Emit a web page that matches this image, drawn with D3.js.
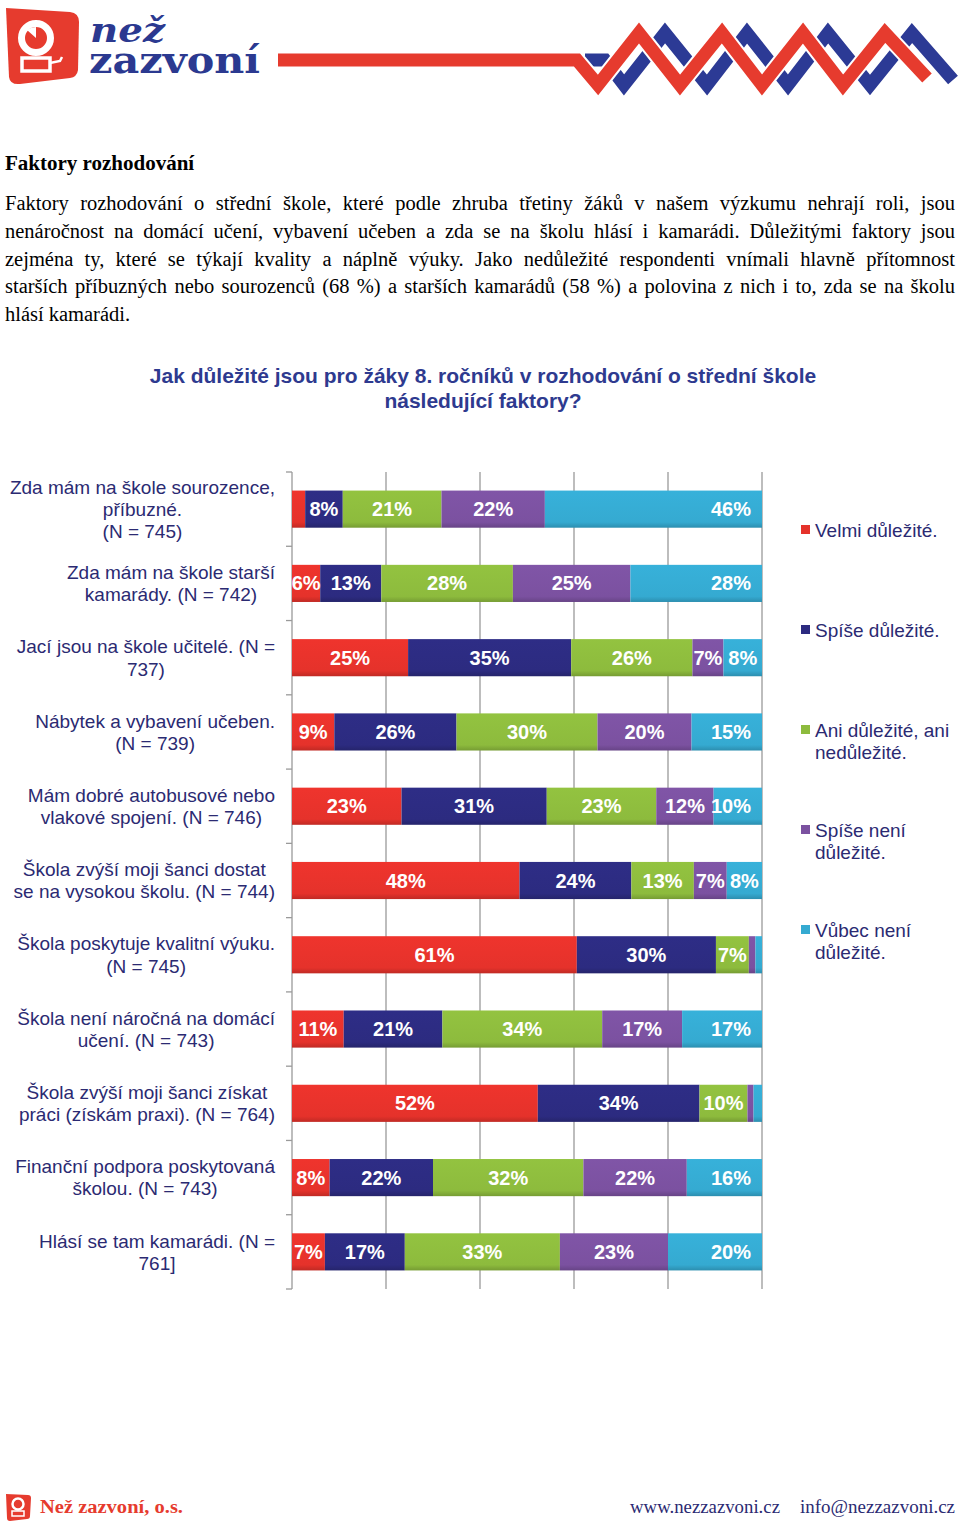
<!DOCTYPE html>
<html>
<head>
<meta charset="utf-8">
<script src="https://cdn.jsdelivr.net/npm/d3@7"></script>
<style>
  html, body { margin: 0; padding: 0; background: #fff; }
  svg { display: block; }
</style>
</head>
<body>
<svg id="page" width="960" height="1524"></svg>
<script>
// ---------------- DATA ----------------
const categories = [
  "Zda mám na škole sourozence, příbuzné. (N = 745)",
  "Zda mám na škole starší kamarády. (N = 742)",
  "Jací jsou na škole učitelé. (N = 737)",
  "Nábytek a vybavení učeben. (N = 739)",
  "Mám dobré autobusové nebo vlakové spojení. (N = 746)",
  "Škola zvýší moji šanci dostat se na vysokou školu. (N = 744)",
  "Škola poskytuje kvalitní výuku. (N = 745)",
  "Škola není náročná na domácí učení.  (N = 743)",
  "Škola zvýší moji šanci získat práci (získám praxi). (N = 764)",
  "Finanční podpora poskytovaná školou. (N = 743)",
  "Hlásí se tam kamarádi. (N = 761]"
];
const categoryLines = [
  ["Zda mám na škole sourozence,", "příbuzné.", "(N = 745)"],
  ["Zda mám na škole starší", "kamarády. (N = 742)"],
  ["Jací jsou na škole učitelé. (N =", "737)"],
  ["Nábytek a vybavení učeben.", "(N = 739)"],
  ["Mám dobré autobusové nebo", "vlakové spojení. (N = 746)"],
  ["Škola zvýší moji šanci dostat", "se na vysokou školu. (N = 744)"],
  ["Škola poskytuje kvalitní výuku.", "(N = 745)"],
  ["Škola není náročná na domácí", "učení.  (N = 743)"],
  ["Škola zvýší moji šanci získat", "práci (získám praxi). (N = 764)"],
  ["Finanční podpora poskytovaná", "školou. (N = 743)"],
  ["Hlásí se tam kamarádi. (N =", "761]"]
];
const seriesNames = ["Velmi důležité.", "Spíše důležité.", "Ani důležité, ani nedůležité.", "Spíše není důležité.", "Vůbec není důležité."];
const legendLines = [["Velmi důležité."], ["Spíše důležité."], ["Ani důležité, ani", "nedůležité."], ["Spíše není", "důležité."], ["Vůbec není", "důležité."]];
const velmi      = [2.8, 6.0, 24.7, 9.0, 23.3, 48.4, 60.6, 11.0, 52.3, 8.0, 7.0];
const spise      = [8.0, 13.0, 34.7, 26.0, 30.9, 23.8, 29.6, 21.0, 34.4, 22.0, 17.0];
const ani        = [21.0, 28.0, 25.8, 30.0, 23.3, 13.3, 7.0, 34.0, 10.2, 32.0, 33.0];
const spiseNeni  = [22.0, 25.0, 6.6, 20.0, 12.2, 7.0, 1.4, 17.0, 1.3, 22.0, 23.0];
const vubecNeni  = [46.2, 28.0, 8.2, 15.0, 10.3, 7.5, 1.4, 17.0, 1.8, 16.0, 20.0];
const xTicks = [0, 20, 40, 60, 80, 100];

const paragraphLines = [
  "Faktory rozhodování o střední škole, které podle zhruba třetiny žáků v našem výzkumu nehrají roli, jsou",
  "nenáročnost na domácí učení, vybavení učeben a zda se na školu hlásí i kamarádi. Důležitými faktory jsou",
  "zejména ty, které se týkají kvality a náplně výuky. Jako nedůležité respondenti vnímali hlavně přítomnost",
  "starších příbuzných nebo sourozenců (68 %) a starších kamarádů (58 %) a polovina z nich i to, zda se na školu",
  "hlásí kamarádi."
];
const titleLines = ["Jak důležité jsou pro žáky 8. ročníků v rozhodování o střední škole", "následující faktory?"];

// ---------------- SETUP ----------------
const colors = ["#E5322B", "#2C2B80", "#8DBB3D", "#7B51A0", "#35AAD1"];
const svg = d3.select("#page");
const serif = "'Liberation Serif', 'Times New Roman', serif";
const sans = "'Liberation Sans', Arial, sans-serif";
const navy = "#2B2A72";

// ---------------- HEADER (logo + zigzag) ----------------
const hdr = svg.append("g");
hdr.append("path")
  .attr("d", "M6,8 L70,12 Q79,13 79,22 L78,70 Q77,77 70,78 L20,84 Q10,85 9,77 Z")
  .attr("fill", "#E63B2E");
hdr.append("circle").attr("cx", 36).attr("cy", 38).attr("r", 14.5)
  .attr("fill", "#E63B2E").attr("stroke", "#fff").attr("stroke-width", 7);
hdr.append("path").attr("d", "M36,38 L27,30 Q31,27 36,27 Z").attr("fill", "#fff");
hdr.append("path").attr("d", "M22,58 L50,58 L50,71 L22,71 Z")
  .attr("fill", "none").attr("stroke", "#fff").attr("stroke-width", 3.5);
hdr.append("path").attr("d", "M50,63 L60,61 L62,57").attr("fill", "none")
  .attr("stroke", "#fff").attr("stroke-width", 2.5);
const logoText = hdr.append("text")
  .attr("font-family", "'DejaVu Serif', serif").attr("font-weight", "bold").attr("fill", "#2B3990");
logoText.append("tspan").attr("x", 90).attr("y", 42)
  .attr("font-style", "italic").attr("font-size", 34)
  .attr("textLength", 75).attr("lengthAdjust", "spacingAndGlyphs").text("než");
logoText.append("tspan").attr("x", 89).attr("y", 73)
  .attr("font-size", 38)
  .attr("textLength", 171).attr("lengthAdjust", "spacingAndGlyphs").text("zazvoní");
// zigzags
const blueZig = "M585,60 L605,60 L624,85 L665,33 L707,85 L747,33 L788,85 L828,33 L870,85 L912,33 L953,80";
const redZig = "M278,60 L577,60 L598,85 L639,33 L680,85 L722,33 L762,85 L803,33 L843,85 L885,33 L927,78";
hdr.append("path").attr("d", blueZig).attr("fill", "none").attr("stroke", "#2C3A95")
  .attr("stroke-width", 13).attr("stroke-linejoin", "miter");
hdr.append("path").attr("d", redZig.replace("M278,60 L577,60", "M565,60 L577,60")).attr("fill", "none").attr("stroke", "#fff")
  .attr("stroke-width", 17).attr("stroke-linejoin", "miter");
hdr.append("path").attr("d", redZig).attr("fill", "none").attr("stroke", "#E63B2E")
  .attr("stroke-width", 13).attr("stroke-linejoin", "miter");

// ---------------- HEADING + PARAGRAPH ----------------
svg.append("text").attr("x", 5).attr("y", 170)
  .attr("font-family", serif).attr("font-weight", "bold").attr("font-size", 21)
  .attr("fill", "#000").text("Faktory rozhodování");

const paraG = svg.append("g").attr("font-family", serif).attr("font-size", 20.5).attr("fill", "#000");
const paraLeft = 5, paraRight = 955;
paragraphLines.forEach((line, i) => {
  const y = 210 + i * 27.8;
  const words = line.split(" ");
  const isLast = i === paragraphLines.length - 1;
  const nodes = words.map(w => paraG.append("text").attr("y", y).text(w));
  const widths = nodes.map(n => n.node().getComputedTextLength());
  const total = d3.sum(widths);
  const gap = isLast ? 5 : (paraRight - paraLeft - total) / (words.length - 1);
  let x = paraLeft;
  nodes.forEach((n, k) => { n.attr("x", x); x += widths[k] + gap; });
});

// ---------------- CHART TITLE ----------------
svg.append("g").selectAll("text").data(titleLines).join("text")
  .attr("x", 483).attr("y", (d, i) => 383 + i * 25)
  .attr("text-anchor", "middle")
  .attr("font-family", sans).attr("font-weight", "bold").attr("font-size", 21)
  .attr("fill", "#2E3A8F")
  .text(d => d);

// ---------------- CHART ----------------
const x = d3.scaleLinear().domain([0, 100]).range([292, 762]);
const y = d3.scaleBand().domain(categories).range([472, 1289]).paddingInner(0.5).paddingOuter(0.25);

// gridlines
svg.append("g").selectAll("line").data(xTicks.slice(1)).join("line")
  .attr("x1", d => x(d)).attr("x2", d => x(d))
  .attr("y1", 472).attr("y2", 1289)
  .attr("stroke", "#9A9A9A").attr("stroke-width", 1.3);

// left axis with ticks at band boundaries
const axisG = svg.append("g");
axisG.append("line").attr("x1", 292).attr("x2", 292).attr("y1", 472).attr("y2", 1289)
  .attr("stroke", "#9A9A9A").attr("stroke-width", 1.3);
const boundaries = d3.range(categories.length + 1).map(i => 472 + i * y.step());
axisG.selectAll(".tk").data(boundaries).join("line").attr("class", "tk")
  .attr("x1", 286).attr("x2", 292).attr("y1", d => d).attr("y2", d => d)
  .attr("stroke", "#9A9A9A").attr("stroke-width", 1.3);

// gradients
const defs = svg.append("defs");
colors.forEach((c, i) => {
  const g = defs.append("linearGradient").attr("id", "grad" + i)
    .attr("x1", 0).attr("y1", 0).attr("x2", 0).attr("y2", 1);
  g.append("stop").attr("offset", "0%").attr("stop-color", d3.color(c).brighter(0.12));
  g.append("stop").attr("offset", "85%").attr("stop-color", c);
  g.append("stop").attr("offset", "100%").attr("stop-color", d3.color(c).darker(0.5));
});

const seriesData = [velmi, spise, ani, spiseNeni, vubecNeni];
const rows = categories.map((c, i) => {
  const obj = { cat: c };
  seriesNames.forEach((s, k) => obj[s] = seriesData[k][i]);
  return obj;
});
const stack = d3.stack().keys(seriesNames)(rows);

const barsG = svg.append("g");
stack.forEach((layer, k) => {
  barsG.append("g").attr("fill", `url(#grad${k})`)
    .selectAll("rect").data(layer).join("rect")
    .attr("x", d => x(d[0]))
    .attr("width", d => x(d[1]) - x(d[0]))
    .attr("y", d => y(d.data.cat))
    .attr("height", y.bandwidth());
});

// value labels
const labG = svg.append("g").attr("font-family", sans).attr("font-weight", "bold")
  .attr("font-size", 20).attr("fill", "#fff");
stack.forEach((layer, k) => {
  layer.forEach(d => {
    const v = d[1] - d[0];
    if (v < 5) return;
    const segW = x(d[1]) - x(d[0]);
    const cy = y(d.data.cat) + y.bandwidth() / 2 + 7;
    const t = labG.append("text").attr("y", cy).text(Math.round(v) + "%");
    if (k === 4 && segW > 45) {
      t.attr("x", x(d[1]) - 11).attr("text-anchor", "end");
    } else {
      t.attr("x", (x(d[0]) + x(d[1])) / 2).attr("text-anchor", "middle");
    }
  });
});

// category labels (block right-aligned, lines centered)
const catG = svg.append("g").attr("font-family", sans).attr("font-size", 19).attr("fill", navy);
categories.forEach((c, i) => {
  const lines = categoryLines[i];
  const lh = 22.2;
  const cy = y(c) + y.bandwidth() / 2;
  const g = catG.append("g");
  const ts = lines.map((l, j) => g.append("text")
    .attr("y", cy - (lines.length - 1) * lh / 2 + j * lh + 6.8).text(l));
  const ws = ts.map(t => t.node().getComputedTextLength());
  const bw = d3.max(ws);
  const cx = 275 - bw / 2;
  ts.forEach(t => t.attr("x", cx).attr("text-anchor", "middle"));
});

// legend
const legG = svg.append("g").attr("font-family", sans).attr("font-size", 19).attr("fill", navy);
const legendY = [530, 630, 730, 830, 930];
legendLines.forEach((lines, k) => {
  legG.append("rect").attr("x", 801).attr("y", legendY[k] - 5).attr("width", 9).attr("height", 9)
    .attr("fill", colors[k]);
  lines.forEach((l, j) => {
    legG.append("text").attr("x", 815).attr("y", legendY[k] + 6.8 + j * 22.2).text(l);
  });
});

// ---------------- FOOTER ----------------
const ft = svg.append("g");
ft.append("path").attr("d", "M6,1494 L28,1495 Q31,1495 31,1498 L30,1516 Q30,1519 27,1519 L10,1521 Q7,1521 7,1518 Z")
  .attr("fill", "#E63B2E");
ft.append("circle").attr("cx", 18).attr("cy", 1504).attr("r", 5.5).attr("fill", "none")
  .attr("stroke", "#fff").attr("stroke-width", 2.5);
ft.append("rect").attr("x", 12).attr("y", 1511).attr("width", 12).attr("height", 5)
  .attr("fill", "none").attr("stroke", "#fff").attr("stroke-width", 1.5);
ft.append("text").attr("x", 40).attr("y", 1513)
  .attr("font-family", serif).attr("font-weight", "bold").attr("font-size", 18)
  .attr("fill", "#E63B2E").attr("textLength", 143).attr("lengthAdjust", "spacingAndGlyphs")
  .text("Než zazvoní, o.s.");
ft.append("text").attr("x", 630).attr("y", 1513)
  .attr("font-family", serif).attr("font-size", 19)
  .attr("fill", "#2B2A72").attr("textLength", 150).attr("lengthAdjust", "spacingAndGlyphs")
  .text("www.nezzazvoni.cz");
ft.append("text").attr("x", 800).attr("y", 1513)
  .attr("font-family", serif).attr("font-size", 19)
  .attr("fill", "#2B2A72").attr("textLength", 155).attr("lengthAdjust", "spacingAndGlyphs")
  .text("info@nezzazvoni.cz");
</script>
</body>
</html>
